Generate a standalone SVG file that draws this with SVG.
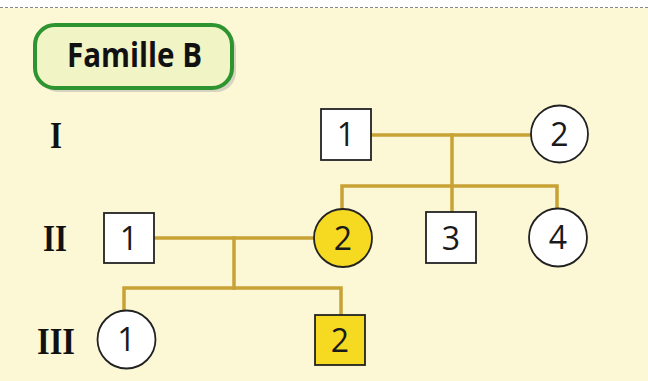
<svg xmlns="http://www.w3.org/2000/svg" width="648" height="381" viewBox="0 0 648 381">
<defs>
<style>
.bg{fill:#fcf8d6}
.ln{stroke:#c8a235;stroke-width:3.5;fill:none;stroke-linecap:square}
.nd{stroke:#222;stroke-width:1.8}
.w{fill:#ffffff}
.y{fill:#f6da22}
.num{font-family:"Open Sans","DejaVu Sans",sans-serif;font-size:32px;fill:#1a1a1a;text-anchor:middle}
.rom{font-family:"Liberation Serif","Times New Roman",serif;font-weight:bold;font-size:38px;fill:#111}
.title{font-family:"Open Sans","Liberation Sans",sans-serif;font-weight:700;font-size:34px;fill:#111}
</style>
</defs>
<rect x="0" y="0" width="648" height="381" fill="#ffffff"/>
<rect class="bg" x="0" y="8" width="648" height="373"/>
<line x1="0" y1="7.5" x2="648" y2="7.5" stroke="#888" stroke-width="1.2" stroke-dasharray="3 2"/>

<g id="title">
<rect x="39" y="29" width="197" height="63" rx="20" fill="#bdbdb0" opacity="0.6"/>
<rect x="35" y="25" width="197" height="63" rx="20" fill="#f1f4c4" stroke="#2e9430" stroke-width="4"/>
<text class="title" x="67" y="67" textLength="135" lengthAdjust="spacingAndGlyphs">Famille B</text>
</g>

<g id="generations">
<text class="rom" x="50" y="148" textLength="12" lengthAdjust="spacingAndGlyphs">I</text>
<text class="rom" x="43" y="251" textLength="24" lengthAdjust="spacingAndGlyphs">II</text>
<text class="rom" x="37" y="354" textLength="38" lengthAdjust="spacingAndGlyphs">III</text>
</g>

<g id="connectors">
<path class="ln" d="M371 135 H531"/>
<path class="ln" d="M452 135 V186"/>
<path class="ln" d="M342 209 V186 H557 V208"/>
<path class="ln" d="M452 186 V212"/>
<path class="ln" d="M154 238 H315"/>
<path class="ln" d="M234 238 V288"/>
<path class="ln" d="M124 311 V288 H341 V315"/>
</g>

<g id="I-1">
<rect class="nd w" x="321" y="109" width="50" height="51"/>
<text class="num" x="346" y="146">1</text>
</g>
<g id="I-2">
<circle class="nd w" cx="559.5" cy="134" r="28.5"/>
<text class="num" x="559.5" y="146">2</text>
</g>
<g id="II-1">
<rect class="nd w" x="104" y="213" width="50" height="50"/>
<text class="num" x="129" y="250">1</text>
</g>
<g id="II-2">
<circle class="nd y" cx="343" cy="238" r="29"/>
<text class="num" x="343" y="250">2</text>
</g>
<g id="II-3">
<rect class="nd w" x="426" y="212" width="50" height="51"/>
<text class="num" x="451" y="250">3</text>
</g>
<g id="II-4">
<circle class="nd w" cx="558" cy="237.5" r="29"/>
<text class="num" x="558" y="249">4</text>
</g>
<g id="III-1">
<circle class="nd w" cx="126.5" cy="339.5" r="29"/>
<text class="num" x="126.5" y="351">1</text>
</g>
<g id="III-2">
<rect class="nd y" x="315" y="315" width="50" height="50"/>
<text class="num" x="340" y="352">2</text>
</g>
</svg>
